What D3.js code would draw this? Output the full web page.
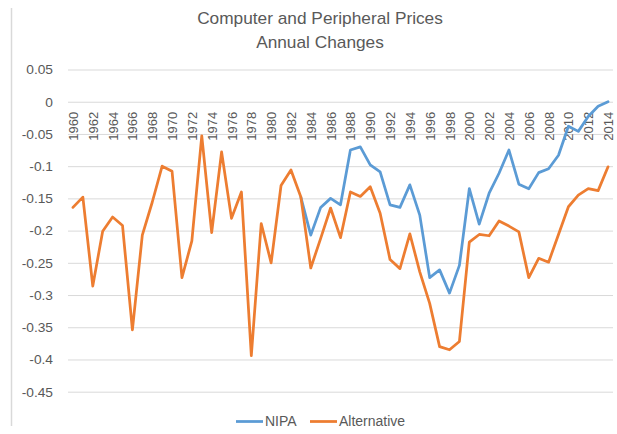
<!DOCTYPE html>
<html>
<head>
<meta charset="utf-8">
<script src="https://cdn.jsdelivr.net/npm/d3@7"></script>
<style>
  html, body { margin: 0; padding: 0; background: #fff; }
  svg { display: block; }
  text { font-family: "Liberation Sans", Arial, sans-serif; fill: #595959; }
</style>
</head>
<body>
<svg id="chart" width="617" height="434"></svg>
<script>
// Annual change in computer and peripheral prices, 1960–2014
const years = [1960, 1961, 1962, 1963, 1964, 1965, 1966, 1967, 1968, 1969,
  1970, 1971, 1972, 1973, 1974, 1975, 1976, 1977, 1978, 1979,
  1980, 1981, 1982, 1983, 1984, 1985, 1986, 1987, 1988, 1989,
  1990, 1991, 1992, 1993, 1994, 1995, 1996, 1997, 1998, 1999,
  2000, 2001, 2002, 2003, 2004, 2005, 2006, 2007, 2008, 2009,
  2010, 2011, 2012, 2013, 2014];

// NIPA series begins in 1983
const nipa = [null, null, null, null, null, null, null, null, null, null,
  null, null, null, null, null, null, null, null, null, null,
  null, null, null, -0.148, -0.207, -0.164, -0.150, -0.160, -0.075, -0.070,
  -0.098, -0.109, -0.160, -0.164, -0.129, -0.176, -0.273, -0.261, -0.297, -0.254,
  -0.135, -0.190, -0.142, -0.111, -0.075, -0.128, -0.135, -0.110, -0.104, -0.083,
  -0.038, -0.046, -0.023, -0.007, 0.000];

const alternative = [-0.164, -0.148, -0.286, -0.201, -0.179, -0.192, -0.354, -0.207, -0.156, -0.100,
  -0.108, -0.273, -0.216, -0.053, -0.203, -0.078, -0.181, -0.140, -0.394, -0.189,
  -0.250, -0.130, -0.106, -0.148, -0.258, -0.212, -0.165, -0.211, -0.140, -0.147,
  -0.132, -0.173, -0.245, -0.259, -0.205, -0.264, -0.313, -0.380, -0.385, -0.372,
  -0.218, -0.206, -0.208, -0.185, -0.193, -0.202, -0.273, -0.243, -0.249, -0.206,
  -0.163, -0.145, -0.135, -0.138, -0.101];

const yTicks = [0.05, 0, -0.05, -0.1, -0.15, -0.2, -0.25, -0.3, -0.35, -0.4, -0.45];
const yTickLabels = ["0.05", "0", "-0.05", "-0.1", "-0.15", "-0.2", "-0.25", "-0.3", "-0.35", "-0.4", "-0.45"];
const xTickYears = years.filter((y, i) => i % 2 === 0);

const seriesNames = ["NIPA", "Alternative"];
const colors = { "NIPA": "#5b9bd5", "Alternative": "#ed7d31" };

const svg = d3.select("#chart");
const plot = { left: 68, right: 613, top: 69.5, bottom: 391.7 };

const x = d3.scalePoint().domain(years).range([plot.left, plot.right]).padding(0.5);
const y = d3.scaleLinear().domain([-0.45, 0.05]).range([plot.bottom, plot.top]);

// chart frame edge on the left
svg.append("line")
  .attr("x1", 11.5).attr("x2", 11.5).attr("y1", 8).attr("y2", 426)
  .attr("stroke", "#d9d9d9").attr("stroke-width", 1.5);

// title
const title = svg.append("g").attr("class", "title");
[["Computer and Peripheral Prices", 24], ["Annual Changes", 48]].forEach(([t, by]) => {
  title.append("text")
    .attr("transform", `translate(320,${by}) scale(1.08,1)`)
    .attr("text-anchor", "middle")
    .style("font-size", "16px")
    .text(t);
});

// horizontal gridlines and y labels
const yAxis = d3.axisLeft(y).tickValues(yTicks)
  .tickSize(-(plot.right - plot.left))
  .tickFormat((d, i) => yTickLabels[i]);
const gy = svg.append("g").attr("transform", `translate(${plot.left},0)`).call(yAxis);
gy.select(".domain").remove();
gy.selectAll(".tick line").attr("stroke", "#d9d9d9").attr("stroke-width", 1);
gy.selectAll(".tick text")
  .attr("x", null).attr("dy", null)
  .attr("transform", "translate(-15,0) scale(1.1,1)")
  .attr("dy", "0.35em")
  .attr("text-anchor", "end")
  .style("font-size", "12.5px")
  .style("font-family", "'Liberation Sans', Arial, sans-serif")
  .attr("fill", "#595959");

// year labels, rotated, hanging below the zero line
const xAxis = d3.axisBottom(x).tickValues(xTickYears).tickSize(0).tickFormat(d3.format("d"));
const gx = svg.append("g").attr("transform", `translate(0,${y(0)})`).call(xAxis);
gx.select(".domain").remove();
gx.selectAll(".tick text")
  .attr("y", null).attr("dy", null)
  .attr("transform", "translate(0,10) rotate(-90)")
  .attr("x", 0).attr("y", 0).attr("dy", "0.35em")
  .attr("text-anchor", "end")
  .style("font-size", "13px")
  .style("font-family", "'Liberation Sans', Arial, sans-serif")
  .attr("fill", "#595959");

// series lines
const line = d3.line()
  .defined(d => d.v !== null)
  .x(d => x(d.year))
  .y(d => y(d.v));

const series = [
  { name: "NIPA", values: nipa },
  { name: "Alternative", values: alternative }
];

svg.append("g").selectAll("path")
  .data(series)
  .join("path")
  .attr("d", s => line(years.map((yr, i) => ({ year: yr, v: s.values[i] }))))
  .attr("fill", "none")
  .attr("stroke", s => colors[s.name])
  .attr("stroke-width", 2.75)
  .attr("stroke-linejoin", "round")
  .attr("stroke-linecap", "round");

// legend
const legendItems = [
  { name: "NIPA", x: 236 },
  { name: "Alternative", x: 310 }
];
const lg = svg.append("g");
legendItems.forEach(it => {
  lg.append("line")
    .attr("x1", it.x).attr("x2", it.x + 27)
    .attr("y1", 421.5).attr("y2", 421.5)
    .attr("stroke", colors[it.name]).attr("stroke-width", 2.75);
  lg.append("text")
    .attr("x", it.x + 29).attr("y", 421.5).attr("dy", "0.35em")
    .style("font-size", "14px")
    .text(it.name);
});
</script>
</body>
</html>
